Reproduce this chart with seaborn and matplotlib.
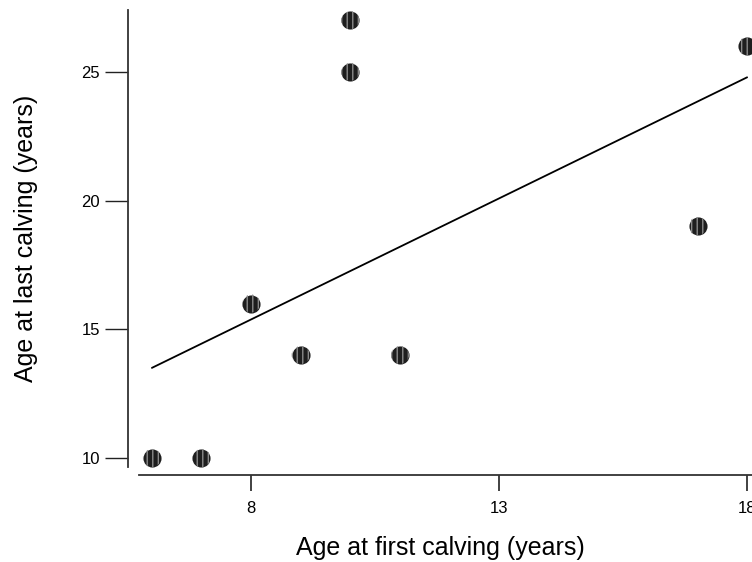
import matplotlib
matplotlib.use("Agg")
import matplotlib.pyplot as plt
import pandas as pd
import seaborn as sns

# age at first calving vs age at last calving (years)
first_calving = [6, 7, 8, 9, 10, 10, 11, 17, 18]
last_calving = [10, 10, 16, 14, 27, 25, 14, 19, 26]
x_ticks = [8, 13, 18]
y_ticks = [10, 15, 20, 25]

df = pd.DataFrame({"first": first_calving, "last": last_calving})

sns.set_style("ticks")
plt.rcParams["font.family"] = ["Liberation Sans", "DejaVu Sans"]
plt.rcParams["hatch.color"] = "#8a8a8a"
plt.rcParams["hatch.linewidth"] = 1.0

fig = plt.figure(figsize=(7.52, 5.62), dpi=100)
ax = fig.add_axes([139 / 752, 95 / 562, 623 / 752, 457 / 562])

sns.regplot(
    data=df, x="first", y="last", ax=ax, ci=None,
    scatter_kws={"s": 170, "color": "#1e1e1e", "linewidths": 0, "alpha": 1},
    line_kws={"color": "black", "lw": 1.3},
)
# wavy-looking hatch over the dark markers
ax.scatter(first_calving, last_calving, s=170, facecolors="none",
           edgecolors="#8a8a8a", linewidths=0, hatch="|||", zorder=3)

ax.set_xlim(5.74, 18.3)
ax.set_ylim(9.65, 27.4)
ax.set_xticks(x_ticks)
ax.set_yticks(y_ticks)

sns.despine(ax=ax)
ax.spines["left"].set_position(("outward", 8))
ax.spines["bottom"].set_position(("outward", 6))
for side in ["left", "bottom"]:
    ax.spines[side].set_color("#333333")
    ax.spines[side].set_linewidth(1.3)
ax.tick_params(axis="y", length=16.5, width=1, color="#222222", pad=3.5,
               labelsize=12, labelcolor="black")
ax.tick_params(axis="x", length=11.5, width=1.3, color="#333333", pad=7,
               labelsize=12, labelcolor="black")

ax.set_xlabel("Age at first calving (years)", fontsize=18, color="black")
ax.set_ylabel("Age at last calving (years)", fontsize=18, color="black")
ax.xaxis.set_label_coords((440 - 139) / 623, -0.15)
ax.yaxis.set_label_coords((38 - 139) / 623, 0.5)

fig.savefig("out.png", dpi=100)
